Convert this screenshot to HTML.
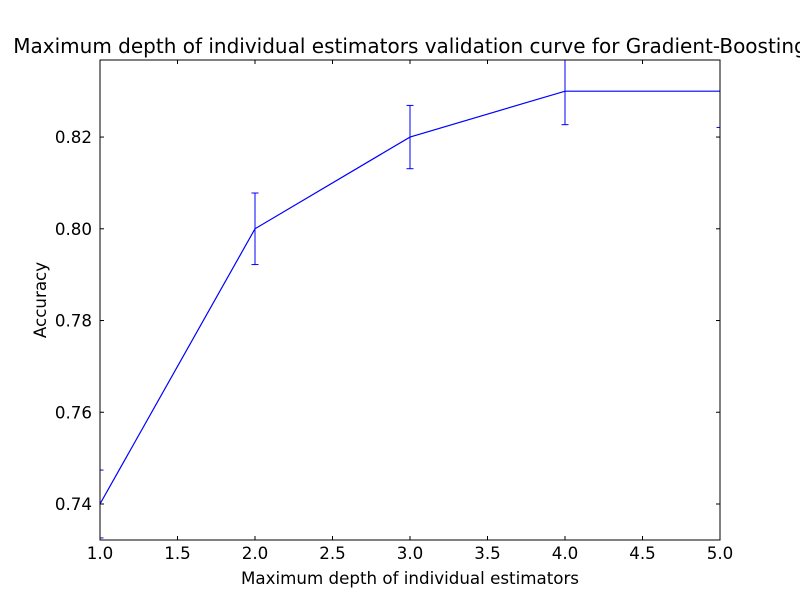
<!DOCTYPE html>
<html><head><meta charset="utf-8"><style>
body{margin:0;background:#fff;}
svg text{font-family:"DejaVu Sans","Liberation Sans",sans-serif;fill:#000;}
</style></head><body>
<svg id="chart" width="800" height="600" xmlns="http://www.w3.org/2000/svg">
<rect width="800" height="600" fill="#fff"/>
<defs><clipPath id="plotclip"><rect x="100" y="60" width="620" height="480"/></clipPath></defs>
<text x="410" y="53" font-size="20" text-anchor="middle">Maximum depth of individual estimators validation curve for Gradient-Boosting</text>
<g id="axes"></g>
<g id="series" clip-path="url(#plotclip)"></g>
<rect x="100" y="60" width="620" height="480" fill="none" stroke="#000" stroke-width="1"/>
<text x="410" y="584" font-size="16.7" text-anchor="middle">Maximum depth of individual estimators</text>
<text x="46" y="300" font-size="16.7" text-anchor="middle" transform="rotate(-90 46 300)">Accuracy</text>
</svg>
<script>
const depths=[1,2,3,4,5];
const accuracy=[0.74,0.80,0.82,0.83,0.83];
const errors=[0.0074,0.0078,0.0069,0.0073,0.0079];
const xTicks=[1.0,1.5,2.0,2.5,3.0,3.5,4.0,4.5,5.0];
const yTicks=[0.74,0.76,0.78,0.80,0.82];
const X0=100,X1=720,Y0=540,Y1=60,xmin=1,xmax=5,ymin=0.73215,ymax=0.8368;
const sx=v=>X0+(v-xmin)/(xmax-xmin)*(X1-X0);
const sy=v=>Y0-(v-ymin)/(ymax-ymin)*(Y0-Y1);
const NS="http://www.w3.org/2000/svg";
function mk(tag,attrs,parent,txt){const e=document.createElementNS(NS,tag);for(const k in attrs)e.setAttribute(k,attrs[k]);if(txt!==undefined)e.textContent=txt;parent.appendChild(e);return e;}
const ax=document.getElementById('axes');
xTicks.forEach(t=>{const x=sx(t);
 const a=mk('line',{x1:x,x2:x,y1:Y0,y2:Y0-4,stroke:'#000'},ax);
 
 
 const b=mk('line',{x1:x,x2:x,y1:Y1,y2:Y1+4,stroke:'#000'},ax);
 
 
 const l=mk('text',{x:x,y:Y0+19,'font-size':16.7,'text-anchor':'middle'},ax,t.toFixed(1));
 
 
});
yTicks.forEach(t=>{const y=sy(t);
 const a=mk('line',{x1:X0,x2:X0+4,y1:y,y2:y,stroke:'#000'},ax);
 
 
 const b=mk('line',{x1:X1,x2:X1-4,y1:y,y2:y,stroke:'#000'},ax);
 
 
 const l=mk('text',{x:X0-8,y:y+6,'font-size':16.7,'text-anchor':'end'},ax,t.toFixed(2));
 
 
});
const sg=document.getElementById('series');
const pts=depths.map((d,i)=>sx(d)+','+sy(accuracy[i])).join(' ');
const pl=mk('polyline',{points:pts,fill:'none',stroke:'#0000ff','stroke-width':1.2},sg);


depths.forEach((d,i)=>{const x=sx(d),yt=sy(accuracy[i]+errors[i]),yb=sy(accuracy[i]-errors[i]);
 const g=mk('g',{stroke:'#0000ff','stroke-width':1},sg);
 
 
 mk('line',{x1:x,x2:x,y1:yt,y2:yb},g);
 mk('line',{x1:x-3.5,x2:x+3.5,y1:yt,y2:yt},g);
 mk('line',{x1:x-3.5,x2:x+3.5,y1:yb,y2:yb},g);
});
</script>
</body></html>
